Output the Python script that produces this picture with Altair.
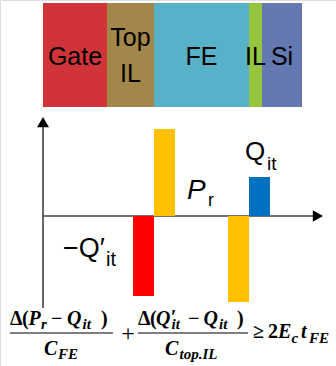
import altair as alt
import pandas as pd

# Gate stack, top to bottom of the device (left to right in the drawing)
layer_names = ["Gate", "Top\nIL", "FE", "IL", "Si"]
layer_thickness = [64, 47, 95, 13, 40]
layer_colors = ["#D13438", "#A3864A", "#57B1C8", "#97C43F", "#6478B1"]

# Charge sheets at the two FE interfaces
charge_names = ["-Q'it", "Pr", "-Pr", "Qit"]
charge_interface = [0, 0, 1, 1]          # 0 = Top IL / FE, 1 = FE / IL
charge_side = ["left", "right", "left", "right"]
charge_values = [-80, 87, -86, 39]
charge_colors = ["#FF0000", "#FFC000", "#FFC000", "#0070C0"]

W, H = 336, 366
BAR_W = 21

# ---- tables -------------------------------------------------------------
edges = [0]
for t in layer_thickness:
    edges.append(edges[-1] + t)
stack = pd.DataFrame({
    "name": layer_names,
    "x0": edges[:-1],
    "x1": edges[1:],
    "color": layer_colors,
})
stack["mid"] = (stack["x0"] + stack["x1"]) / 2

# one row per printed line of each layer name
label_rows = []
for name, mid in zip(stack["name"], stack["mid"]):
    lines = name.split("\n")
    for i, line in enumerate(lines):
        label_rows.append({"text": line, "mid": mid, "nlines": len(lines), "line": i})
stack_labels = pd.DataFrame(label_rows)

fe_idx = layer_names.index("FE")
fe_edges = [edges[fe_idx], edges[fe_idx + 1]]
bars = pd.DataFrame({
    "name": charge_names,
    "edge": [fe_edges[i] for i in charge_interface],
    "side": charge_side,
    "value": charge_values,
    "color": charge_colors,
})
bars["x0"] = bars.apply(lambda r: r["edge"] - BAR_W if r["side"] == "left" else r["edge"], axis=1)
bars["x1"] = bars["x0"] + BAR_W
bars["base"] = 0

xscale = alt.Scale(domain=[-43, W - 43], range=[0, W], nice=False, zero=False)
yscale = alt.Scale(domain=[-(H - 216), 216], range=[H, 0], nice=False, zero=False)

one = pd.DataFrame({"k": [0]})

band = alt.Chart(stack).mark_rect(strokeWidth=0).encode(
    x=alt.X("x0:Q", scale=xscale, axis=None),
    x2="x1:Q",
    y=alt.value(3),
    y2=alt.value(107),
    color=alt.Color("color:N", scale=None),
)


def stack_text(cond, ypix):
    return alt.Chart(stack_labels).transform_filter(cond).mark_text(
        font="Liberation Sans", fontSize=25, baseline="alphabetic", align="center", color="#000000",
    ).encode(
        x=alt.X("mid:Q", scale=xscale, axis=None),
        y=alt.value(ypix),
        text="text:N",
    )


band_labels = [
    stack_text("datum.nlines == 1", 65),
    stack_text("datum.nlines == 2 && datum.line == 0", 46),
    stack_text("datum.nlines == 2 && datum.line == 1", 82),
]

charge = alt.Chart(bars).mark_rect(strokeWidth=0).encode(
    x=alt.X("x0:Q", scale=xscale, axis=None),
    x2="x1:Q",
    y=alt.Y("value:Q", scale=yscale, axis=None),
    y2="base:Q",
    color=alt.Color("color:N", scale=None),
)

AX = "#404040"
v_axis = alt.Chart(one).mark_rule(color=AX, strokeWidth=1.6).encode(
    x=alt.value(43), y=alt.value(125), y2=alt.value(308))
h_axis = alt.Chart(one).mark_rule(color=AX, strokeWidth=1.6).encode(
    x=alt.value(43), x2=alt.value(315), y=alt.value(216))
v_head = alt.Chart(one).mark_point(
    shape="M0,-1L1,0.7L-1,0.7Z", filled=True, color="#000000", opacity=1, size=144, strokeWidth=0
).encode(x=alt.value(43), y=alt.value(123))
h_head = alt.Chart(one).mark_point(
    shape="M1,0L-0.7,0.95L-0.7,-0.95Z", filled=True, color="#000000", opacity=1, size=144, strokeWidth=0
).encode(x=alt.value(317), y=alt.value(216))


def txt(s, x, y, size, font="Liberation Sans", italic=False, bold=False, align="left"):
    kw = dict(font=font, fontSize=size, baseline="alphabetic", align=align, color="#000000", text=s)
    if italic:
        kw["fontStyle"] = "italic"
    if bold:
        kw["fontWeight"] = "bold"
    return alt.Chart(one).mark_text(**kw).encode(x=alt.value(x), y=alt.value(y))


labels = [
    txt("Q", 245, 160, 26),
    txt("it", 267, 170, 19),
    txt("P", 187, 199, 28, italic=True),
    txt("r", 208, 206, 18),
    txt("\u2212Q\u2032", 63, 257, 27),
    txt("it", 106, 266, 20),
]

SERIF = "Liberation Serif"
FS, SS = 20, 15


def m(s, x, y, size=FS, italic=True):
    return txt(s, x, y, size, font=SERIF, italic=italic, bold=True)


NB, NS = 325, 329     # numerator baseline / subscript baseline
DB, DS = 355, 359     # denominator
RB, RS = 338, 343     # right-hand side

formula = [
    # first fraction
    m("\u0394", 10, NB, italic=False),
    m("(", 22, NB, italic=False),
    m("P", 28.5, NB),
    m("r", 41, NS, SS),
    m("\u2212", 51, NB, italic=False),
    m("Q", 67, NB),
    m("it", 82.5, NS, SS),
    m(")", 101, NB, italic=False),
    m("C", 44, DB),
    m("FE", 58, DS, SS),
    # plus sign
    txt("+", 128, 341, 24, font=SERIF, align="center"),
    # second fraction
    m("\u0394", 138, NB, italic=False),
    m("(", 150, NB, italic=False),
    m("Q", 156, NB),
    m("\u2032", 170.5, NB - 1),
    m("it", 171.5, NS, SS),
    m("\u2212", 188, NB, italic=False),
    m("Q", 203.5, NB),
    m("it", 219, NS, SS),
    m(")", 237, NB, italic=False),
    m("C", 165, DB),
    m("top.IL", 179.5, DS, 15),
    # right-hand side
    m("\u2265", 253, RB, italic=False),
    m("2", 268, RB, italic=False),
    m("E", 278, RB),
    m("c", 291.5, RS, SS),
    m("t", 301, RB),
    m("FE", 309, RS, 15),
]

frac1 = alt.Chart(one).mark_rule(color="#000000", strokeWidth=1.2).encode(
    x=alt.value(10), x2=alt.value(113), y=alt.value(333))
frac2 = alt.Chart(one).mark_rule(color="#000000", strokeWidth=1.2).encode(
    x=alt.value(138), x2=alt.value(248), y=alt.value(333))

chart = alt.layer(
    band, *band_labels, v_axis, h_axis, v_head, h_head, charge,
    *labels, *formula, frac1, frac2,
).properties(
    width=W, height=H,
    autosize=alt.AutoSizeParams(type="none"),
    padding=0,
).configure_view(stroke=None).configure(background="#FFFFFF")

chart.save("out.html", embed_options={"renderer": "svg", "actions": False})
